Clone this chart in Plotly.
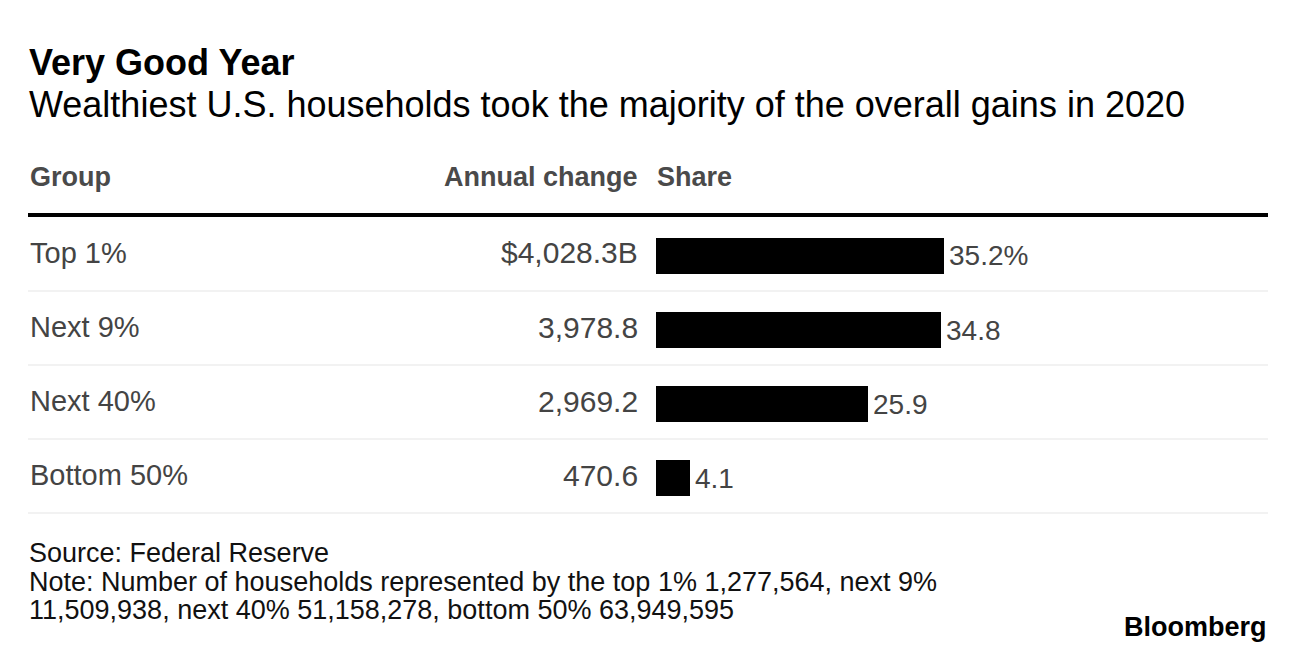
import plotly.graph_objects as go

W, H = 1296, 652

# ---- data ----
groups = ["Top 1%", "Next 9%", "Next 40%", "Bottom 50%"]
annual_change = ["$4,028.3B", "3,978.8", "2,969.2", "470.6"]
share = [35.2, 34.8, 25.9, 4.1]
share_labels = ["35.2%", "34.8", "25.9", "4.1"]
headers = ["Group", "Annual change", "Share"]

title = "Very Good Year"
subtitle = "Wealthiest U.S. households took the majority of the overall gains in 2020"
source = "Source: Federal Reserve"
note_lines = [
    "Note: Number of households represented by the top 1% 1,277,564, next 9%",
    "11,509,938, next 40% 51,158,278, bottom 50% 63,949,595",
]

FONT = "Liberation Sans, Arial, Helvetica, sans-serif"
ROW_COLOR = "#444444"


def px_x(p):
    return p / W


def px_y(p):
    return 1 - p / H


fig = go.Figure(
    go.Bar(
        x=share,
        y=groups,
        orientation="h",
        marker=dict(color="#000000", line=dict(width=0)),
        width=0.49,
        hoverinfo="skip",
    )
)

ann = []
# title / subtitle
ann.append(dict(text="<b>" + title + "</b>", x=px_x(27), y=px_y(62), xref="paper", yref="paper",
                xanchor="left", yanchor="middle", showarrow=False,
                font=dict(family=FONT, size=36, color="#000000")))
ann.append(dict(text=subtitle, x=px_x(27), y=px_y(105), xref="paper", yref="paper",
                xanchor="left", yanchor="middle", showarrow=False,
                font=dict(family=FONT, size=36, color="#000000")))
# headers
ann.append(dict(text="<b>" + headers[0] + "</b>", x=px_x(28), y=px_y(177), xref="paper", yref="paper",
                xanchor="left", yanchor="middle", showarrow=False,
                font=dict(family=FONT, size=27, color="#4a4a4a")))
ann.append(dict(text="<b>" + headers[1] + "</b>", x=px_x(640), y=px_y(177), xref="paper", yref="paper",
                xanchor="right", yanchor="middle", showarrow=False,
                font=dict(family=FONT, size=27, color="#4a4a4a")))
ann.append(dict(text="<b>" + headers[2] + "</b>", x=px_x(655), y=px_y(177), xref="paper", yref="paper",
                xanchor="left", yanchor="middle", showarrow=False,
                font=dict(family=FONT, size=27, color="#4a4a4a")))

# rows
for g, ch, s, lab in zip(groups, annual_change, share, share_labels):
    ann.append(dict(text=g, x=px_x(28), y=g, xref="paper", yref="y", yshift=3,
                    xanchor="left", yanchor="middle", showarrow=False,
                    font=dict(family=FONT, size=29, color=ROW_COLOR)))
    ann.append(dict(text=ch, x=px_x(640), y=g, xref="paper", yref="y", yshift=3,
                    xanchor="right", yanchor="middle", showarrow=False,
                    font=dict(family=FONT, size=30, color=ROW_COLOR)))
    ann.append(dict(text=lab, x=s, y=g, xref="x", yref="y", xshift=3, yshift=0,
                    xanchor="left", yanchor="middle", showarrow=False,
                    font=dict(family=FONT, size=28, color=ROW_COLOR)))

# footer
ann.append(dict(text=source, x=px_x(27), y=px_y(553), xref="paper", yref="paper",
                xanchor="left", yanchor="middle", showarrow=False,
                font=dict(family=FONT, size=27, color="#111111")))
for i, line in enumerate(note_lines):
    ann.append(dict(text=line, x=px_x(27), y=px_y(582 + 28 * i), xref="paper", yref="paper",
                    xanchor="left", yanchor="middle", showarrow=False,
                    font=dict(family=FONT, size=27, color="#111111")))
ann.append(dict(text="<b>Bloomberg</b>", x=px_x(1269), y=px_y(627), xref="paper", yref="paper",
                xanchor="right", yanchor="middle", showarrow=False,
                font=dict(family=FONT, size=27, color="#000000")))

shapes = [
    dict(type="line", xref="paper", yref="paper", x0=px_x(28), x1=px_x(1268),
         y0=px_y(215), y1=px_y(215), line=dict(color="#000000", width=4)),
]
for i in range(len(groups)):
    yp = 291 + 74 * i
    shapes.append(dict(type="line", xref="paper", yref="paper", x0=px_x(28), x1=px_x(1268),
                       y0=px_y(yp), y1=px_y(yp), line=dict(color="#eeeeee", width=1.5), layer="below"))

fig.update_layout(
    width=W,
    height=H,
    margin=dict(l=0, r=0, t=0, b=0),
    paper_bgcolor="#ffffff",
    plot_bgcolor="rgba(0,0,0,0)",
    showlegend=False,
    xaxis=dict(domain=[px_x(656), px_x(1268)], range=[0, 74.8], visible=False, fixedrange=True),
    yaxis=dict(domain=[px_y(515), px_y(219)], type="category", categoryorder="array",
               categoryarray=groups, range=[len(groups) - 0.5, -0.5], visible=False, fixedrange=True),
    annotations=ann,
    shapes=shapes,
    bargap=0,
)

fig.write_html(
    "out.html",
    config={"displayModeBar": False},
    post_script="document.body.style.margin='0';document.body.style.overflow='hidden';",
)
